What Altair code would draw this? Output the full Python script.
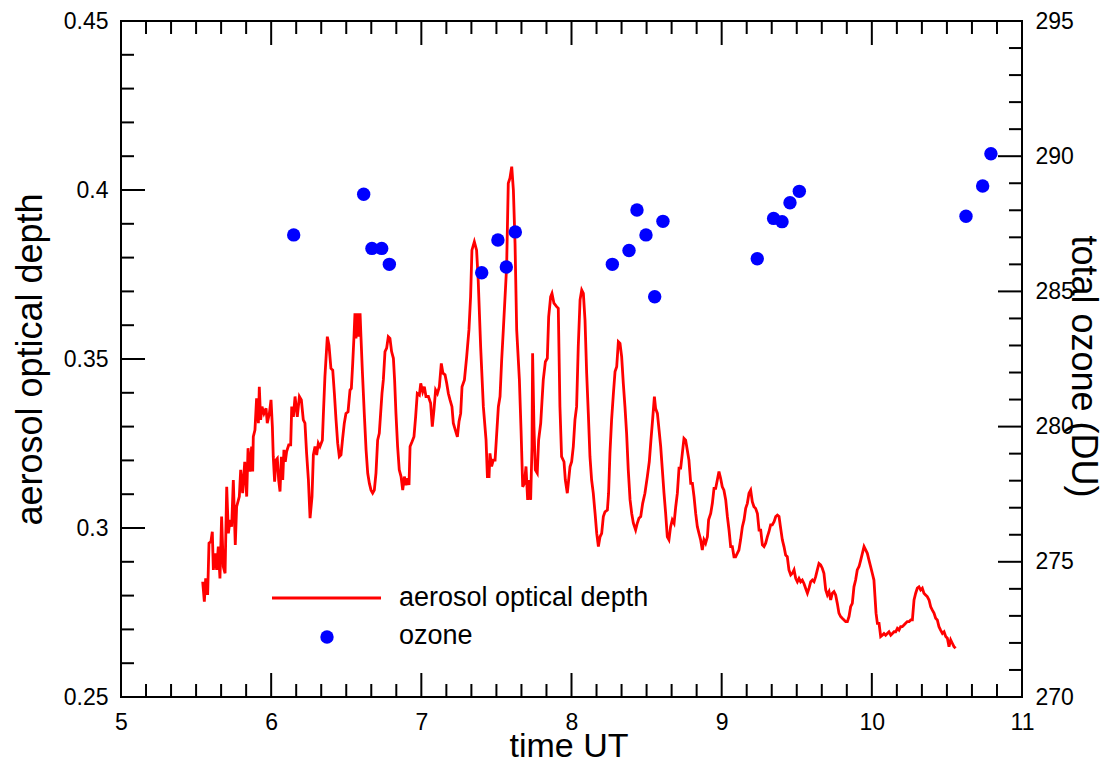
import altair as alt
import pandas as pd

# ---------------- data ----------------
time_aod = [
    5.544, 5.555, 5.564, 5.577, 5.586, 5.599, 5.608, 5.615, 5.626, 5.637,
    5.648, 5.659, 5.670, 5.681, 5.693, 5.704, 5.715, 5.726, 5.737, 5.748,
    5.761, 5.770, 5.788, 5.797, 5.810, 5.824, 5.837, 5.846, 5.859, 5.870,
    5.877, 5.881, 5.892, 5.903, 5.915, 5.921, 5.930, 5.939, 5.952, 5.966,
    5.974, 5.988, 5.999, 6.008, 6.014, 6.023, 6.032, 6.041, 6.050, 6.059,
    6.068, 6.077, 6.085, 6.094, 6.103, 6.117, 6.130, 6.137, 6.148, 6.159,
    6.174, 6.188, 6.201, 6.214, 6.225, 6.236, 6.248, 6.259, 6.272, 6.281,
    6.292, 6.303, 6.314, 6.325, 6.341, 6.347, 6.358, 6.374, 6.385, 6.398,
    6.410, 6.421, 6.432, 6.443, 6.454, 6.465, 6.476, 6.487, 6.498, 6.512,
    6.525, 6.534, 6.543, 6.552, 6.558, 6.565, 6.574, 6.583, 6.592, 6.598,
    6.607, 6.620, 6.632, 6.643, 6.654, 6.665, 6.676, 6.687, 6.698, 6.709,
    6.720, 6.729, 6.738, 6.747, 6.758, 6.769, 6.780, 6.791, 6.802, 6.814,
    6.822, 6.831, 6.842, 6.853, 6.865, 6.876, 6.887, 6.898, 6.909, 6.918,
    6.925, 6.938, 6.951, 6.962, 6.973, 6.987, 6.996, 7.009, 7.020, 7.031,
    7.047, 7.062, 7.073, 7.084, 7.095, 7.107, 7.120, 7.133, 7.144, 7.158,
    7.169, 7.180, 7.191, 7.204, 7.213, 7.226, 7.240, 7.251, 7.262, 7.271,
    7.287, 7.302, 7.317, 7.328, 7.337, 7.353, 7.368, 7.379, 7.395, 7.413,
    7.431, 7.440, 7.451, 7.457, 7.468, 7.479, 7.491, 7.502, 7.513, 7.524,
    7.535, 7.546, 7.568, 7.579, 7.590, 7.602, 7.613, 7.624, 7.635, 7.653,
    7.664, 7.675, 7.686, 7.697, 7.708, 7.719, 7.728, 7.737, 7.741, 7.750,
    7.759, 7.772, 7.781, 7.795, 7.804, 7.812, 7.826, 7.839, 7.848, 7.861,
    7.870, 7.883, 7.901, 7.912, 7.923, 7.934, 7.950, 7.959, 7.972,
    7.990, 8.001, 8.012, 8.023, 8.034, 8.045, 8.057, 8.068, 8.079, 8.090,
    8.101, 8.112, 8.123, 8.134, 8.145, 8.157, 8.168, 8.179, 8.190, 8.201,
    8.212, 8.223, 8.239, 8.247, 8.256, 8.267, 8.279, 8.290, 8.301, 8.312,
    8.323, 8.334, 8.345, 8.356, 8.367, 8.378, 8.390, 8.401, 8.412, 8.427,
    8.438, 8.449, 8.461, 8.474, 8.489, 8.505, 8.518, 8.529, 8.540, 8.552,
    8.560, 8.572, 8.583, 8.594, 8.605, 8.616, 8.627, 8.638, 8.649, 8.660,
    8.671, 8.683, 8.694, 8.705, 8.716, 8.727, 8.738, 8.749, 8.760, 8.771,
    8.782, 8.794, 8.805, 8.816, 8.827, 8.838, 8.849, 8.860, 8.871, 8.882,
    8.893, 8.905, 8.913, 8.927, 8.938, 8.949, 8.960, 8.971, 8.982, 8.993,
    9.004, 9.015, 9.027, 9.038, 9.049, 9.060, 9.071, 9.082, 9.093, 9.104,
    9.115, 9.126, 9.138, 9.149, 9.160, 9.171, 9.182, 9.193, 9.204, 9.215,
    9.226, 9.238, 9.249, 9.260, 9.271, 9.282, 9.293, 9.304, 9.315, 9.326,
    9.337, 9.349, 9.360, 9.371, 9.382, 9.393, 9.404, 9.415, 9.426, 9.437,
    9.448, 9.460, 9.471, 9.482, 9.493, 9.504, 9.515, 9.526, 9.537, 9.548,
    9.559, 9.571, 9.582, 9.593, 9.604, 9.615, 9.626, 9.637, 9.648, 9.659,
    9.670, 9.681, 9.693, 9.704, 9.715, 9.726, 9.737, 9.748, 9.759, 9.770,
    9.781, 9.792, 9.803, 9.815, 9.826, 9.837, 9.848, 9.859, 9.870, 9.881,
    9.892, 9.903, 9.915, 9.926, 9.937, 9.948, 9.959, 9.970, 9.981, 9.992,
    10.003, 10.014, 10.021, 10.028, 10.037, 10.048, 10.059, 10.070, 10.081, 10.092,
    10.103, 10.114, 10.126, 10.137, 10.148, 10.159, 10.170, 10.181, 10.192, 10.203,
    10.214, 10.225, 10.236, 10.248, 10.259, 10.270, 10.281, 10.292, 10.303, 10.314,
    10.325, 10.336, 10.347, 10.358, 10.369, 10.381, 10.392, 10.403, 10.414, 10.425,
    10.436, 10.447, 10.458, 10.470, 10.481, 10.492, 10.503, 10.514, 10.525, 10.536,
    10.547, 10.558,
]
aod = [
    0.2841, 0.2782, 0.2851, 0.2802, 0.2955, 0.2960, 0.2989, 0.2876, 0.2925, 0.2876,
    0.2945, 0.2851, 0.3034, 0.2886, 0.2866, 0.3122, 0.2984, 0.3024, 0.3004, 0.3142,
    0.2950, 0.3063, 0.3093, 0.3172, 0.3103, 0.3196, 0.3093, 0.3236, 0.3167, 0.3241,
    0.3167, 0.3270, 0.3290, 0.3384, 0.3310, 0.3418, 0.3320, 0.3359, 0.3339, 0.3354,
    0.3310, 0.3339, 0.3379, 0.3300, 0.3211, 0.3137, 0.3201, 0.3206, 0.3142, 0.3108,
    0.3211, 0.3142, 0.3231, 0.3196, 0.3226, 0.3246, 0.3246, 0.3359, 0.3329, 0.3389,
    0.3329, 0.3389, 0.3379, 0.3320, 0.3310, 0.3221, 0.3142, 0.3029, 0.3093, 0.3216,
    0.3241, 0.3216, 0.3251, 0.3241, 0.3260, 0.3329, 0.3448, 0.3566, 0.3541, 0.3472,
    0.3467, 0.3398, 0.3320, 0.3251, 0.3211, 0.3216, 0.3265, 0.3310, 0.3339, 0.3344,
    0.3408, 0.3413, 0.3487, 0.3571, 0.3635, 0.3561, 0.3635, 0.3566, 0.3635, 0.3566,
    0.3467, 0.3339, 0.3231, 0.3162, 0.3132, 0.3112, 0.3103, 0.3112, 0.3162, 0.3260,
    0.3280, 0.3339, 0.3398, 0.3438, 0.3522, 0.3532, 0.3566, 0.3561, 0.3522, 0.3502,
    0.3438, 0.3339, 0.3241, 0.3172, 0.3152, 0.3112, 0.3152, 0.3127, 0.3147, 0.3127,
    0.3241, 0.3255, 0.3270, 0.3329, 0.3398, 0.3393, 0.3428, 0.3403, 0.3418, 0.3389,
    0.3389, 0.3369, 0.3300, 0.3349, 0.3408, 0.3398, 0.3418, 0.3487, 0.3458, 0.3453,
    0.3428, 0.3398, 0.3379, 0.3359, 0.3310, 0.3290, 0.3270, 0.3315, 0.3339, 0.3418,
    0.3438, 0.3507, 0.3586, 0.3684, 0.3822, 0.3847, 0.3822, 0.3730, 0.3536, 0.3359,
    0.3260, 0.3152, 0.3152, 0.3221, 0.3182, 0.3201, 0.3201, 0.3280, 0.3359, 0.3389,
    0.3497, 0.3586, 0.3773, 0.4020, 0.4035, 0.4069, 0.4000, 0.3842, 0.3586, 0.3438,
    0.3290, 0.3122, 0.3132, 0.3182, 0.3083, 0.3142, 0.3083, 0.3241, 0.3517, 0.3300,
    0.3172, 0.3162, 0.3260, 0.3310, 0.3379, 0.3438, 0.3492, 0.3502, 0.3625, 0.3684,
    0.3694, 0.3665, 0.3655, 0.3650, 0.3359, 0.3211, 0.3196, 0.3142, 0.3103,
    0.3181, 0.3196, 0.3241, 0.3320, 0.3359, 0.3536, 0.3675, 0.3704, 0.3694, 0.3615,
    0.3458, 0.3339, 0.3211, 0.3142, 0.3103, 0.3043, 0.2984, 0.2945, 0.2974, 0.2984,
    0.3034, 0.3048, 0.3053, 0.3103, 0.3221, 0.3320, 0.3398, 0.3463, 0.3477, 0.3551,
    0.3546, 0.3507, 0.3428, 0.3359, 0.3280, 0.3172, 0.3083, 0.3043, 0.3014, 0.2994,
    0.3014, 0.3029, 0.3034, 0.3073, 0.3103, 0.3152, 0.3196, 0.3260, 0.3320, 0.3389,
    0.3354, 0.3339, 0.3290, 0.3241, 0.3172, 0.3103, 0.3043, 0.2974, 0.2965, 0.3004,
    0.3024, 0.3014, 0.3063, 0.3103, 0.3177, 0.3177, 0.3221, 0.3265, 0.3260, 0.3231,
    0.3201, 0.3132, 0.3132, 0.3093, 0.3043, 0.3004, 0.2984, 0.2965, 0.2935, 0.2965,
    0.2955, 0.2974, 0.3024, 0.3043, 0.3073, 0.3117, 0.3117, 0.3142, 0.3167, 0.3147,
    0.3122, 0.3112, 0.3083, 0.3034, 0.2994, 0.2945, 0.2945, 0.2915, 0.2915, 0.2925,
    0.2935, 0.2965, 0.3004, 0.3024, 0.3058, 0.3073, 0.3103, 0.3112, 0.3078, 0.3063,
    0.3058, 0.3043, 0.2994, 0.2994, 0.2950, 0.2945, 0.2955, 0.2974, 0.2989, 0.3009,
    0.3009, 0.3019, 0.3034, 0.3038, 0.3034, 0.2999, 0.2965, 0.2945, 0.2920, 0.2915,
    0.2876, 0.2861, 0.2866, 0.2876, 0.2851, 0.2841, 0.2851, 0.2841, 0.2846, 0.2836,
    0.2822, 0.2807, 0.2822, 0.2841, 0.2846, 0.2841, 0.2856, 0.2876, 0.2895, 0.2891,
    0.2881, 0.2866, 0.2817, 0.2802, 0.2812, 0.2787, 0.2807, 0.2812, 0.2802, 0.2777,
    0.2748, 0.2738, 0.2733, 0.2728, 0.2723, 0.2723, 0.2738, 0.2767, 0.2777, 0.2826,
    0.2846, 0.2876, 0.2886, 0.2905, 0.2925, 0.2945, 0.2935, 0.2925, 0.2905, 0.2886,
    0.2866, 0.2846, 0.2797, 0.2748, 0.2718, 0.2718, 0.2679, 0.2683, 0.2688, 0.2683,
    0.2688, 0.2693, 0.2683, 0.2688, 0.2693, 0.2693, 0.2703, 0.2698, 0.2708, 0.2708,
    0.2713, 0.2718, 0.2723, 0.2723, 0.2728, 0.2728, 0.2787, 0.2807, 0.2822, 0.2826,
    0.2817, 0.2822, 0.2807, 0.2802, 0.2797, 0.2787, 0.2767, 0.2757, 0.2748, 0.2733,
    0.2728, 0.2708, 0.2698, 0.2688, 0.2693, 0.2679, 0.2674, 0.2649, 0.2669, 0.2659,
    0.2649, 0.2644,
]

time_ozone = [6.150, 6.616, 6.671, 6.736, 6.787, 7.402, 7.510, 7.566, 7.626,
              8.272, 8.383, 8.436, 8.496, 8.554, 8.609, 9.237, 9.346, 9.402,
              9.455, 9.517, 10.627, 10.738, 10.793]
ozone = [287.09, 288.59, 286.59, 286.59, 286.00, 285.69, 286.90, 285.90, 287.20,
         286.00, 286.51, 288.01, 287.09, 284.80, 287.59, 286.21, 287.70, 287.58,
         288.28, 288.70, 287.78, 288.90, 290.09]

legend_labels = ["aerosol optical depth", "ozone"]

x_major = [5, 6, 7, 8, 9, 10, 11]
x_minor = [5 + k / 6 for k in range(37) if k % 6]
y_left_major = [0.25, 0.3, 0.35, 0.4, 0.45]
y_left_minor = [round(0.25 + k * 0.01, 2) for k in range(21) if k % 5]
y_right_major = [270, 275, 280, 285, 290, 295]
y_right_minor = [270 + k for k in range(26) if k % 5]

# ---------------- chart ----------------
FONT = "Liberation Sans"
W, H = 901, 676
MAJ, MIN = 24, 13

xscale = alt.Scale(domain=[5, 11], nice=False, zero=False)
yl = alt.Scale(domain=[0.25, 0.45], nice=False, zero=False)
yr = alt.Scale(domain=[270, 295], nice=False, zero=False)

aod_df = pd.DataFrame({"t": time_aod, "aod": aod})
oz_df = pd.DataFrame({"t": time_ozone, "oz": ozone})

common_axis = dict(ticks=False, tickSize=0, domain=False, grid=False,
                   labelFont=FONT, labelFontSize=23, labelColor="black",
                   titleFont=FONT, titleFontWeight="normal", titleColor="black",
                   labelFlush=False, labelOverlap=False)

x_axis = alt.Axis(orient="bottom", values=x_major, format="d", title="time UT",
                  labelPadding=14, titleFontSize=34, titleY=59, titleX=W / 2 - 3,
                  titleBaseline="alphabetic", titleAlign="center", **common_axis)

line = alt.Chart(aod_df).mark_line(color="#ff0000", strokeWidth=2.8).encode(
    x=alt.X("t:Q", scale=xscale, axis=x_axis),
    y=alt.Y("aod:Q", scale=yl, axis=alt.Axis(
        orient="left", values=y_left_major, format=".2~f",
        title="aerosol optical depth", labelPadding=13, titleFontSize=36,
        titleAngle=270, titleX=-80, titleY=H / 2, titleAlign="center",
        titleBaseline="alphabetic", **common_axis)),
)

points = alt.Chart(oz_df).mark_circle(size=180, color="#0000ff", opacity=1).encode(
    x=alt.X("t:Q", scale=xscale, axis=None),
    y=alt.Y("oz:Q", scale=yr, axis=alt.Axis(
        orient="right", values=y_right_major, format="d",
        title="total ozone (DU)", labelPadding=13, titleFontSize=36,
        titleAngle=90, titleX=49, titleY=345, titleAlign="center",
        titleBaseline="alphabetic", **common_axis)),
)


def xticks(vals, length, top):
    base = alt.Chart(pd.DataFrame({"t": vals})).mark_rule(color="black", strokeWidth=2)
    if top:
        return base.encode(x=alt.X("t:Q", scale=xscale, axis=None),
                           y=alt.value(0), y2=alt.value(length))
    return base.encode(x=alt.X("t:Q", scale=xscale, axis=None),
                       y=alt.value(H), y2=alt.value(H - length))


def yticks(vals, scale, length, right):
    base = alt.Chart(pd.DataFrame({"v": vals})).mark_rule(color="black", strokeWidth=2)
    if right:
        return base.encode(y=alt.Y("v:Q", scale=scale, axis=None),
                           x=alt.value(W), x2=alt.value(W - length))
    return base.encode(y=alt.Y("v:Q", scale=scale, axis=None),
                       x=alt.value(0), x2=alt.value(length))


tick_layers = [
    xticks(x_major, MAJ, False), xticks(x_minor, MIN, False),
    xticks(x_major, MAJ, True), xticks(x_minor, MIN, True),
    yticks(y_left_major, yl, MAJ, False), yticks(y_left_minor, yl, MIN, False),
    yticks(y_right_major, yr, MAJ, True), yticks(y_right_minor, yr, MIN, True),
]

leg_df1 = pd.DataFrame({"label": [legend_labels[0]]})
leg_df2 = pd.DataFrame({"label": [legend_labels[1]]})
leg_line = alt.Chart(leg_df1).mark_rule(color="#ff0000", strokeWidth=2.8).encode(
    x=alt.value(151), x2=alt.value(260), y=alt.value(577))
leg_dot = alt.Chart(leg_df2).mark_circle(size=180, color="#0000ff", opacity=1).encode(
    x=alt.value(206), y=alt.value(616))
leg_t1 = alt.Chart(leg_df1).mark_text(align="left", baseline="alphabetic", font=FONT,
                                      fontSize=27, color="black").encode(
    x=alt.value(278), y=alt.value(585), text="label:N")
leg_t2 = alt.Chart(leg_df2).mark_text(align="left", baseline="alphabetic", font=FONT,
                                      fontSize=27, color="black").encode(
    x=alt.value(278), y=alt.value(623), text="label:N")

chart = alt.layer(
    line, points, *tick_layers, leg_line, leg_dot, leg_t1, leg_t2
).resolve_scale(x="independent", y="independent").properties(
    width=W, height=H,
    padding={"left": 113, "top": 13, "right": 78, "bottom": 60},
    autosize=alt.AutoSizeParams(type="none"),
    background="white",
).configure_view(stroke="black", strokeWidth=2)

chart.save("out.html", embed_options={"renderer": "svg", "actions": False})
